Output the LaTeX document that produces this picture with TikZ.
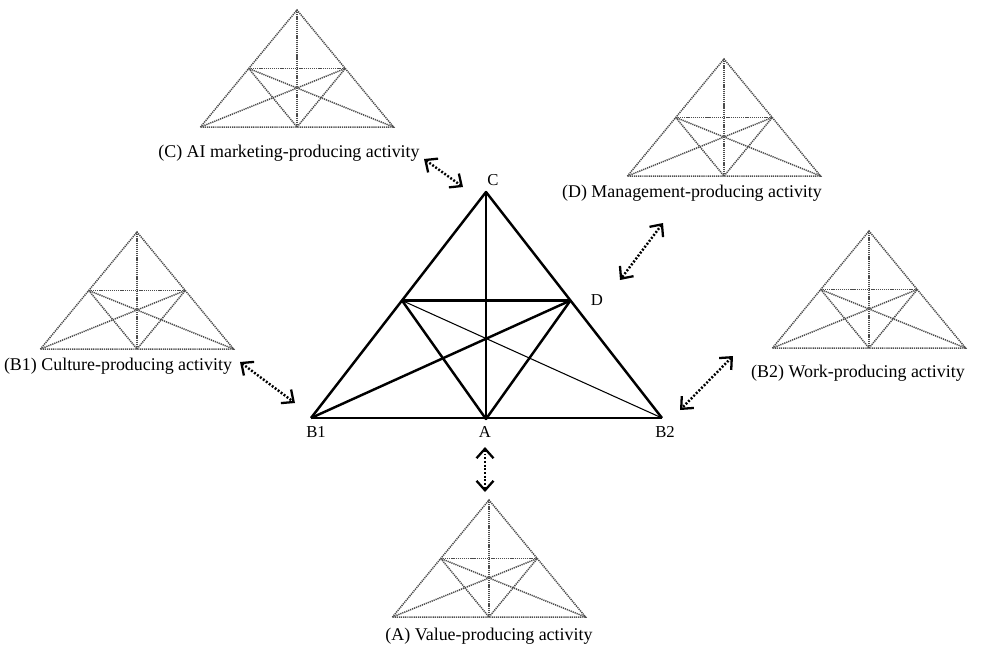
\documentclass[tikz,border=0pt]{standalone}
\usepackage{fontspec}
\setmainfont{Liberation Serif}
\usetikzlibrary{arrows.meta,calc}
\tikzset{
  bigline/.style={line width=1.4pt,line join=round},
  thinline/.style={line width=0.6pt},
  dotline/.style={color=black!70,line width=0.85pt,dash pattern=on 0.7pt off 0.5pt},
  twoway/.style={{Straight Barb[length=1.9mm,width=3.4mm,line width=1.3pt]}-{Straight Barb[length=1.9mm,width=3.4mm,line width=1.3pt]},
    line width=1.4pt,dash pattern=on 1.1pt off 1pt},
  actlabel/.style={font=\fontsize{10.2}{12}\selectfont},
  vlabel/.style={font=\fontsize{9.5}{11}\selectfont}
}
\begin{document}
\begin{tikzpicture}[x=0.02cm,y=-0.02cm]
  \useasboundingbox (0,0) rectangle (984,650);
  % central triangle
  \coordinate (B1) at (311,418);
  \coordinate (B2) at (662,418);
  \coordinate (C)  at (486,192);
  \coordinate (A)  at (486,419);
  \coordinate (L)  at ($(B1)!0.52!(C)$);
  \coordinate (D)  at ($(B2)!0.52!(C)$);
  \draw[bigline] (B1) -- (C) -- (B2);
  \draw[thinline] (B1) -- (B2);
  \draw[bigline] (C) -- (A);
  \draw[bigline] (L) -- (D);
  \draw[bigline] (L) -- (A) -- (D);
  \draw[bigline] (B1) -- (D);
  \draw[thinline] (B2) -- (L);
  \node[vlabel] (labC)  at (493,180) {C};
  \node[vlabel] (labD)  at (597,300) {D};
  \node[vlabel] (labB1) at (316,432) {B1};
  \node[vlabel] (labA)  at (485,432) {A};
  \node[vlabel] (labB2) at (665,432) {B2};
%%%
  % small dotted triangles
  \foreach \ax/\ay in {297/10,489/500,137/232,724/59,869/231}
  {
    \begin{scope}[shift={(\ax,\ay)}]
      \coordinate (t)  at (0,0);
      \coordinate (bl) at (-96.5,117);
      \coordinate (br) at (96.5,117);
      \coordinate (bm) at (0,117);
      \coordinate (ml) at (-48.25,58.5);
      \coordinate (mr) at (48.25,58.5);
      \draw[dotline] (bl) -- (br) -- (t) -- cycle;
      \draw[dotline] (t) -- (bm);
      \draw[dotline] (ml) -- (mr);
      \draw[dotline] (ml) -- (bm) -- (mr);
      \draw[dotline] (bl) -- (mr);
      \draw[dotline] (br) -- (ml);
    \end{scope}
  }
%%%
  \node[actlabel] (actC)  at (289,153) {(C) AI marketing-producing activity};
  \node[actlabel] (actD)  at (692,193) {(D) Management-producing activity};
  \node[actlabel] (actB1) at (118,366) {(B1) Culture-producing activity};
  \node[actlabel] (actB2) at (858,373) {(B2) Work-producing activity};
  \node[actlabel] (actA)  at (489,636) {(A) Value-producing activity};
%%%
  \coordinate (cU) at (424,159);  \coordinate (cL) at (463,187);
  \coordinate (dU) at (663,223);  \coordinate (dL) at (620,280);
  \coordinate (eU) at (240,362);  \coordinate (eL) at (295,403);
  \coordinate (fU) at (733,356);  \coordinate (fL) at (680,410);
  \coordinate (gU) at (485,447);  \coordinate (gL) at (485,492);
  \draw[twoway] (cU) -- (cL);
  \draw[twoway] (dU) -- (dL);
  \draw[twoway] (eU) -- (eL);
  \draw[twoway] (fU) -- (fL);
  \draw[twoway] (gU) -- (gL);
\end{tikzpicture}
\end{document}
